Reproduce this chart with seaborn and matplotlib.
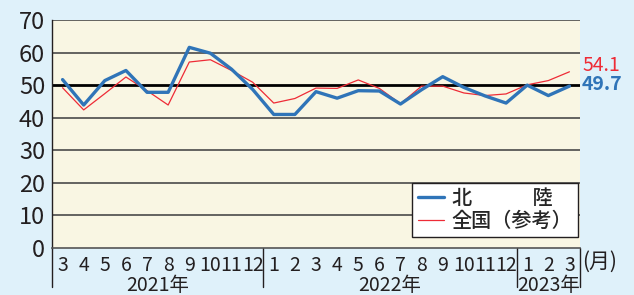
import matplotlib
matplotlib.use("Agg")
import matplotlib.pyplot as plt
import matplotlib.transforms as mtransforms
import seaborn as sns
import pandas as pd

# ------------------------
# DADOS
# ------------------------
months = ["3", "4", "5", "6", "7", "8", "9", "10", "11", "12",
          "1", "2", "3", "4", "5", "6", "7", "8", "9", "10", "11", "12",
          "1", "2", "3"]
years = ["2021年", "2022年", "2023年"]
year_spans = [(0, 9), (10, 21), (22, 24)]

hokuriku = [51.7, 43.9, 51.4, 54.5, 47.8, 47.8, 61.6, 59.8, 54.9, 48.7,
            41.0, 41.0, 48.0, 46.0, 48.3, 48.2, 44.2, 48.6, 52.6, 49.3,
            46.7, 44.5, 50.0, 46.8, 49.7]
zenkoku = [49.2, 42.4, 47.4, 52.5, 48.3, 43.9, 57.1, 57.8, 54.5, 50.9,
           44.5, 45.9, 49.1, 49.0, 51.6, 49.0, 44.3, 49.7, 49.7, 47.6,
           46.8, 47.3, 50.1, 51.4, 54.1]

label_hokuriku = "北　　　陸"
label_zenkoku = "全国（参考）"

blue = "#2f74b8"
red = "#ee2b36"
bg = "#dff1fa"
cream = "#f9f6e3"

sns.set_theme(style="white")
plt.rcParams["font.family"] = ["Liberation Sans Narrow", "Noto Sans CJK JP", "DejaVu Sans"]

df = pd.DataFrame({"idx": range(len(months)), "hokuriku": hokuriku, "zenkoku": zenkoku})

fig = plt.figure(figsize=(6.34, 2.95), dpi=100, facecolor=bg)
ax = fig.add_axes([52 / 634, 1 - 248 / 295, 528 / 634, 228 / 295])
ax.set_facecolor(cream)

# linhas de grade
for v in [10, 20, 30, 40, 60, 70]:
    ax.axhline(v, color="#4a4a4a", lw=1.2, zorder=1)
ax.axhline(50, color="black", lw=2.0, zorder=1)

sns.lineplot(data=df, x="idx", y="zenkoku", color=red, lw=0.9, ax=ax,
             label=label_zenkoku, zorder=2)
sns.lineplot(data=df, x="idx", y="hokuriku", color=blue, lw=2.4, ax=ax,
             label=label_hokuriku, zorder=3)

ax.set_xlim(-0.5, len(months) - 0.5)
ax.set_ylim(0, 70)
ax.set_xlabel("")
ax.set_ylabel("")

ax.set_yticks(range(0, 71, 10))
ax.tick_params(axis="y", length=0, pad=5, labelsize=17, labelcolor="#231f20")
ax.set_xticks(range(len(months)))
ax.set_xticklabels(months)
ax.set_xticks([i - 0.5 for i in range(len(months) + 1)], minor=True)
ax.tick_params(axis="x", which="major", length=0, pad=5, labelsize=14, labelcolor="#231f20")
ax.tick_params(axis="x", which="minor", direction="in", length=4, width=1, color="#555555")

for s in ["top", "right"]:
    ax.spines[s].set_visible(False)
ax.spines["left"].set_color("#231f20")
ax.spines["left"].set_linewidth(1.0)
ax.spines["bottom"].set_color("#555555")
ax.spines["bottom"].set_linewidth(1.2)

# separadores de ano e rótulos
trans = mtransforms.blended_transform_factory(ax.transData, ax.transAxes)
for xb in [-0.5, 9.5, 21.5, len(months) - 0.5]:
    ax.plot([xb, xb], [0, -0.172], transform=trans, color="#231f20", lw=1.0, clip_on=False)
for name, (a, b) in zip(years, year_spans):
    ax.text((a + b) / 2, -0.166, name, transform=trans, ha="center", va="center",
            fontsize=14, color="#231f20")
ax.text(len(months) - 0.38, -0.062, "(月)", transform=trans, ha="left", va="center",
        fontsize=15, color="#231f20", family=["Noto Sans CJK JP", "DejaVu Sans"])

# valores finais
ax.text(len(months) - 0.4, 55.9, f"{zenkoku[-1]:.1f}", color=red, fontsize=14,
        ha="left", va="center", clip_on=False)
ax.text(len(months) - 0.4, 50.1, f"{hokuriku[-1]:.1f}", color=blue, fontsize=14,
        fontweight="bold", ha="left", va="center", clip_on=False)

# legenda
handles, labels = ax.get_legend_handles_labels()
leg = ax.legend(handles[::-1], labels[::-1], loc="lower right", bbox_to_anchor=(0.997, 0.047),
                borderaxespad=0, frameon=True, fancybox=False,
                handlelength=1.25, handletextpad=0.4, borderpad=0.3, labelspacing=0.2,
                prop={"family": ["Noto Sans CJK JP", "DejaVu Sans"], "size": 14.5,
                      "weight": "medium"})
leg.get_frame().set_edgecolor("#231f20")
leg.get_frame().set_linewidth(1.0)
leg.get_frame().set_facecolor("white")
leg.get_frame().set_alpha(1)
leg.set_zorder(5)

plt.savefig("out.png", dpi=100, facecolor=bg)
